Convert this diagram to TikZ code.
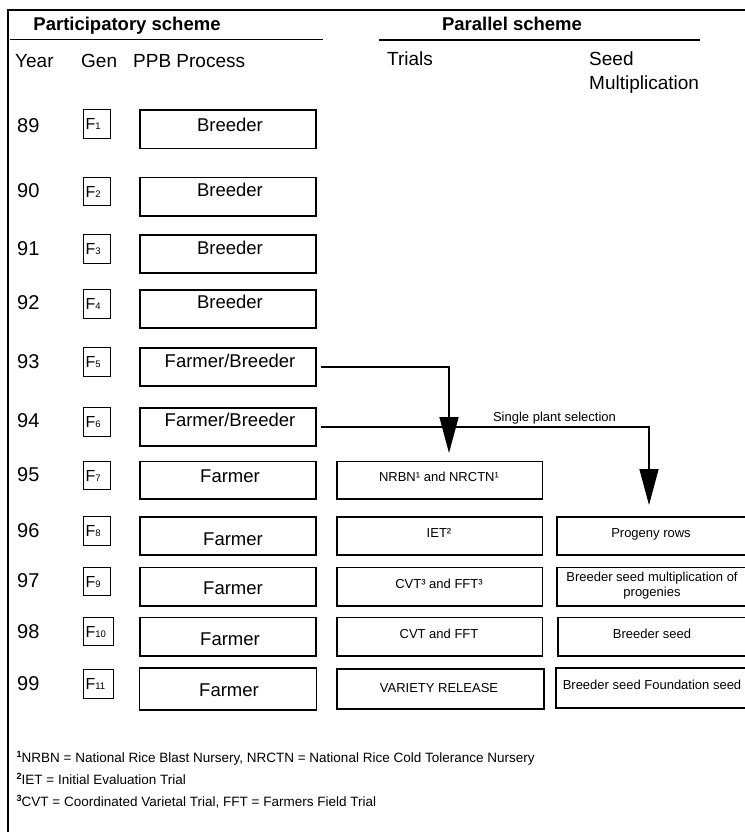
\documentclass[tikz,border=0pt]{standalone}
\usepackage{fontspec}
\setmainfont{Liberation Sans}
\usetikzlibrary{arrows.meta}
\newcommand\fsz[2]{\fontsize{#1}{#2}\selectfont}
\newcommand\gsub[1]{{\fsz{9.5}{10}#1}}
\newcommand\fnmark[1]{\raisebox{5.5pt}{\fsz{9}{10}\bfseries #1}}
\begin{document}
\begin{tikzpicture}[x=1pt,y=-1pt,
  every node/.style={inner sep=0pt, text depth=0pt},
  hdr/.style={font=\bfseries\fsz{18.5}{22}, text height=13.25pt},
  col/.style={anchor=west, font=\fsz{19}{23}, text height=13.6pt},
  yr/.style={anchor=west, font=\fsz{20}{24}, text height=14.3pt},
  gen/.style={draw, line width=1.1pt, anchor=north west, minimum height=28.5pt,
    inner xsep=2pt, text width=#1, align=left, font=\fsz{16}{18}, text height=11.5pt},
  box/.style 2 args={draw, line width=1.7pt, anchor=north west,
    minimum width=#1, minimum height=#2},
  ppbtxt/.style={font=\fsz{18.5}{22}, text height=13.25pt},
  small/.style={font=\fsz{13}{15.5}, text height=9.3pt},
  foot/.style={anchor=west, font=\fsz{13.5}{16}, text height=9.7pt},
  conn/.style={line width=1.6pt},
  tip/.style={-{Triangle[length=36pt,width=19pt]}},
  rule/.style={line width=1.6pt},
  frame/.style={line width=2.5pt}
]
\useasboundingbox (0,0) rectangle (744,832);

% outer frame and header rules
\draw[frame] (8,834) -- (8,10) -- (746,10);
\draw[rule] (10,39.5) -- (322.7,39.5);
\draw[rule] (378.7,40) -- (700.3,40);

% headings
\node[hdr] (hp) at (127,24) {Participatory scheme};
\node[hdr] (hq) at (512,24) {Parallel scheme};
\node[col] (cy) at (15,61) {Year};
\node[col] (cg) at (81,61) {Gen};
\node[col] (cp) at (133,61) {PPB Process};
\node[col] (ct) at (387,59) {Trials};
\node[col] (cs1) at (589,59) {Seed};
\node[col] (cs2) at (589,83) {Multiplication};

% years
\node[yr] (y89) at (17,125) {89};
\node[yr] (y90) at (17,190) {90};
\node[yr] (y91) at (17,248) {91};
\node[yr] (y92) at (17,302) {92};
\node[yr] (y93) at (17,361) {93};
\node[yr] (y94) at (17,420) {94};
\node[yr] (y95) at (17,474) {95};
\node[yr] (y96) at (17,530) {96};
\node[yr] (y97) at (17,580) {97};
\node[yr] (y98) at (17,631) {98};
\node[yr] (y99) at (17,683) {99};

% generations
\node[gen=23pt] (g89) at (83,109.3) {F\gsub{1}};
\node[gen=23pt] (g90) at (83,176.7) {F\gsub{2}};
\node[gen=23pt] (g91) at (83,234) {F\gsub{3}};
\node[gen=23pt] (g92) at (83,289.3) {F\gsub{4}};
\node[gen=23pt] (g93) at (83,347.3) {F\gsub{5}};
\node[gen=23pt] (g94) at (83,407.3) {F\gsub{6}};
\node[gen=23pt] (g95) at (83,460.7) {F\gsub{7}};
\node[gen=23pt] (g96) at (83,516) {F\gsub{8}};
\node[gen=23pt] (g97) at (83,566.7) {F\gsub{9}};
\node[gen=26pt] (g98) at (83,616.7) {F\gsub{10}};
\node[gen=26pt] (g99) at (83,669.3) {F\gsub{11}};

% PPB process boxes
\node[box={176pt}{38.4pt}] (p89) at (139,109.3) {};
\node[box={176pt}{38.3pt}] (p90) at (139,176.7) {};
\node[box={176pt}{38.3pt}] (p91) at (139,234) {};
\node[box={176pt}{38pt}] (p92) at (139,289.3) {};
\node[box={176pt}{37.7pt}] (p93) at (139,347.3) {};
\node[box={176pt}{38pt}] (p94) at (139,407.3) {};
\node[box={176pt}{37.6pt}] (p95) at (139,460.7) {};
\node[box={176pt}{38pt}] (p96) at (139,516) {};
\node[box={176pt}{38.3pt}] (p97) at (139,566.7) {};
\node[box={176pt}{38.3pt}] (p98) at (139,616.7) {};
\node[box={177pt}{42pt}] (p99) at (138.7,667.3) {};

\node[ppbtxt] (tp89) at (230,125) {Breeder};
\node[ppbtxt] (tp90) at (230,190) {Breeder};
\node[ppbtxt] (tp91) at (230,248) {Breeder};
\node[ppbtxt] (tp92) at (230,302) {Breeder};
\node[ppbtxt] (tp93) at (230,361) {Farmer/Breeder};
\node[ppbtxt] (tp94) at (230,420) {Farmer/Breeder};
\node[ppbtxt] (tp95) at (230,476) {Farmer};
\node[ppbtxt] (tp96) at (233,539) {Farmer};
\node[ppbtxt] (tp97) at (233,588) {Farmer};
\node[ppbtxt] (tp98) at (230,639) {Farmer};
\node[ppbtxt] (tp99) at (229,690) {Farmer};

% trials boxes
\node[box={205.7pt}{37.6pt}] (n95) at (336,460.7) {};
\node[box={205.7pt}{38pt}] (n96) at (336,516) {};
\node[box={205.7pt}{38.3pt}] (n97) at (336,566.7) {};
\node[box={205.7pt}{38.3pt}] (n98) at (336,616.7) {};
\node[box={207pt}{40pt}] (n99) at (336,668) {};

\node[small] (tn95) at (439,477) {NRBN¹ and NRCTN¹};
\node[small] (tn96) at (439,533) {IET²};
\node[small] (tn97) at (439,584) {CVT³ and FFT³};
\node[small] (tn98) at (439,634) {CVT and FFT};
\node[small] (tn99) at (439,688) {VARIETY RELEASE};

% seed multiplication boxes
\node[box={190pt}{38pt}] (s96) at (556,516) {};
\node[box={190pt}{38.3pt}] (s97) at (556,566.7) {};
\node[box={190pt}{38.3pt}] (s98) at (557,616.7) {};
\node[box={191pt}{40pt}] (s99) at (555.3,667.3) {};

\node[small] (ts96) at (651,533) {Progeny rows};
\node[small] (ts97a) at (652,577) {Breeder seed multiplication of};
\node[small] (ts97b) at (652,592) {progenies};
\node[small] (ts98) at (652,634) {Breeder seed};
\node[small] (ts99) at (652,685) {Breeder seed Foundation seed};

% flow from the PPB process into the parallel scheme
\coordinate (k1) at (449,453);
\coordinate (k2) at (649,505);
\draw[conn,tip] ([xshift=4pt]p93.east) -| (k1);
\draw[conn,tip] ([xshift=4pt]p94.east) -| (k2);
\node[small] (sps) at (554.5,416.5) {Single plant selection};

% footnotes
\node[foot] (fn1) at (16.5,758)
  {\fnmark{1}NRBN = National Rice Blast Nursery, NRCTN = National Rice Cold Tolerance Nursery};
\node[foot] (fn2) at (16.5,780)
  {\fnmark{2}IET = Initial Evaluation Trial};
\node[foot] (fn3) at (16.5,802)
  {\fnmark{3}CVT = Coordinated Varietal Trial, FFT = Farmers Field Trial};
\end{tikzpicture}
\end{document}
